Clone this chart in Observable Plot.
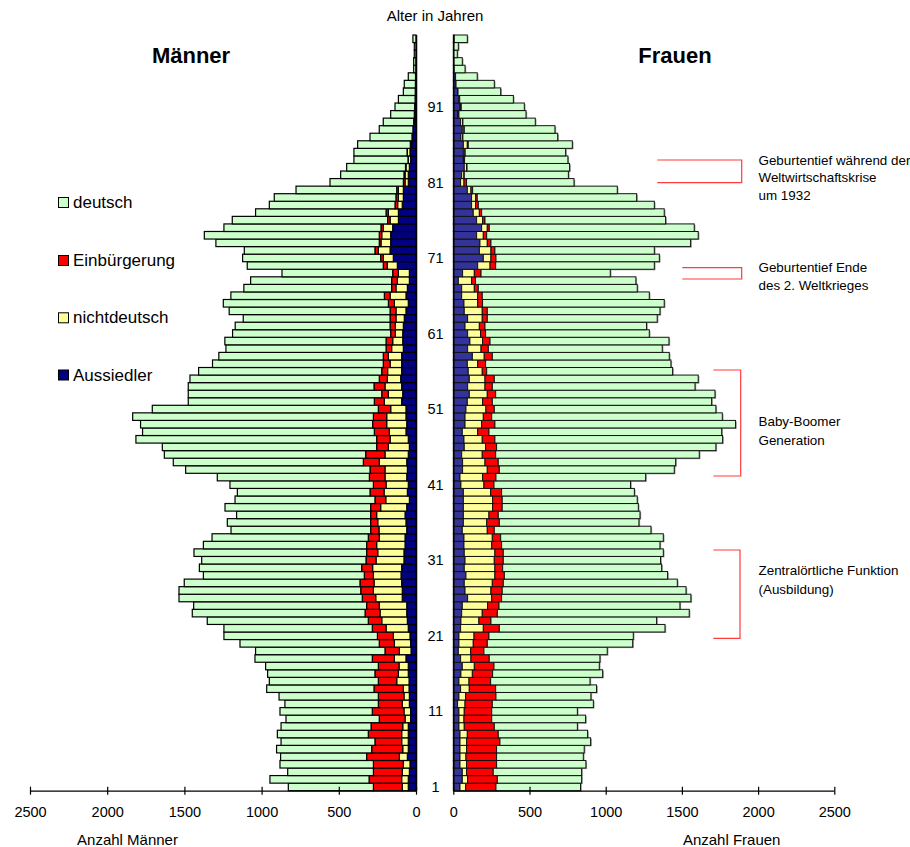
<!DOCTYPE html>
<html>
<head>
<meta charset="utf-8">
<script src="https://cdn.jsdelivr.net/npm/d3@7"></script>
<script src="https://cdn.jsdelivr.net/npm/@observablehq/plot@0.6"></script>
<style>
  html, body { margin: 0; padding: 0; background: #fff; }
  #chart { position: relative; width: 910px; height: 847px; overflow: hidden; font-family: "Liberation Sans", Arial, sans-serif; }
</style>
</head>
<body>
<div id="chart"></div>
<script>
// ---------- DATA (ages 1..100, index 0 = age 1) ----------
const ages = d3.range(1, 101);
const categories = ["Aussiedler", "nichtdeutsch", "Einbürgerung", "deutsch"]; // inner -> outer
const legendOrder = ["deutsch", "Einbürgerung", "nichtdeutsch", "Aussiedler"];
const xTicks = [0, 500, 1000, 1500, 2000, 2500];
const ageLabels = [1, 11, 21, 31, 41, 51, 61, 71, 81, 91];

const menAussiedler = [50,50,43,39,56,50,50,50,50,35, 35,43,43,45,45,50,50,65,32,35, 39,50,56,60,60,89,89,93,97,93,
  78,78,71,71,60,65,71,60,43,56, 50,60,56,60,50,43,50,65,60,65, 65,93,86,93,99,93,93,93,82,86,
  86,82,76,65,50,65,56,43,43,121, 147,168,164,164,151,114,114,89,82,82, 50,50,43,35,39,28,22,17,13,10,
  8,6,5,4,3,1,1,0,0,0];
const menNichtdeutsch = [39,43,46,43,52,36,43,43,36,36, 43,46,35,37,80,64,60,75,76,105, 108,144,166,173,178,172,187,179,179,188,
  181,170,184,167,180,183,184,169,153,151, 144,141,145,178,151,136,118,108,130,125, 99,112,93,108,87,91,75,86,76,65,
  48,52,54,65,90,103,74,78,71,65, 65,76,63,58,61,54,65,30,32,32, 21,21,22,15,17,7,3,2,2,1,
  1,0,0,0,0,0,0,0,0,0];
const menEinbuergerung = [187,211,187,194,212,201,173,216,205,167, 205,155,166,190,119,152,134,143,93,98, 103,89,87,97,82,87,82,91,59,71,
  65,72,65,71,54,46,39,65,70,91, 82,101,97,103,125,76,87,97,91,86, 80,65,43,71,52,38,44,33,36,43,
  30,34,38,38,39,37,28,37,37,26, 17,22,11,16,15,16,15,17,16,11, 11,7,3,2,2,2,1,1,0,0,
  0,0,0,0,0,0,0,0,0,0];
const menDeutsch = [551,642,555,605,557,616,608,589,583,604, 598,605,643,695,706,695,730,760,838,902, 994,961,1043,1119,1120,1187,1177,1138,1042,1051,
  1064,1118,1057,1012,904,928,868,943,906,859, 929,985,1194,1231,1304,1388,1559,1501,1503,1559, 1464,1205,1253,1203,1226,1186,1106,1065,1037,1044,
  1024,1003,951,1042,1069,994,957,913,717,881, 894,846,1058,1133,1017,1006,845,814,788,652, 475,410,381,350,344,341,272,218,197,153,
  127,108,77,72,47,14,14,11,11,20];

const womenAussiedler = [44,59,59,44,44,44,44,44,37,37, 37,28,37,48,37,50,59,48,33,37, 37,48,50,55,59,94,77,72,83,72,
  77,72,70,70,59,66,66,66,66,66, 50,44,61,61,55,72,70,59,77,77, 83,92,105,94,105,98,92,125,94,109,
  94,77,94,72,70,55,55,33,61,160, 197,171,175,153,186,153,131,120,120,92, 48,55,72,66,66,66,50,59,48,28,
  44,37,28,17,15,5,3,0,0,5];
const womenNichtdeutsch = [37,35,28,43,39,43,43,48,35,33, 35,49,44,57,66,75,79,68,81,94, 99,149,118,135,166,158,170,184,190,201,
  192,201,182,186,164,153,168,192,192,179, 151,148,162,147,135,140,120,101,109,120, 131,100,118,114,103,92,68,78,88,83,
  85,94,96,118,90,105,83,87,77,81, 50,76,48,44,37,39,40,26,26,24, 22,15,15,6,10,26,11,11,13,7,
  6,3,2,1,0,0,0,0,0,0];
const womenEinbuergerung = [199,195,175,197,201,197,219,203,197,182, 180,179,199,173,142,133,129,120,87,92, 98,105,79,99,75,65,74,72,62,51,
  59,55,65,55,46,83,61,63,63,72, 66,88,79,87,88,72,83,74,87,55, 55,64,55,48,61,29,52,53,48,49,
  33,37,33,33,32,30,26,26,44,37, 33,26,24,22,13,16,15,18,11,11, 17,2,3,2,2,6,2,2,2,2,
  2,2,1,0,0,0,0,0,0,0];
const womenDeutsch = [555,553,580,586,569,575,595,586,545,616, 562,663,623,662,652,722,691,726,809,954, 947,1087,1087,1259,1187,1242,1206,1142,1071,1043,
  1032,1050,1039,1067,1028,916,930,893,886,871, 896,982,1148,1164,1336,1439,1494,1527,1579,1513, 1454,1439,1439,1330,1338,1220,1216,1161,1141,1174,
  1074,1060,1115,1133,1192,1096,1043,1052,848,1041, 1072,1046,1310,1388,1345,1185,1198,1155,1046,949, 705,683,673,678,659,683,622,595,475,440,
  414,352,280,251,142,72,56,26,33,87];

const menColors = ["#000080", "#FFFF99", "#FF0000", "#CCFFCC"];
const womenColors = ["#333399", "#FFFF99", "#FF0000", "#CCFFCC"];

// ---------- build stacked rows ----------
function stackRows(seriesList) {
  const rows = [];
  ages.forEach((age, i) => {
    let acc = 0;
    seriesList.forEach((vals, k) => {
      const v = vals[i];
      if (v > 0) rows.push({ age, cat: categories[k], x1: acc, x2: acc + v });
      acc += v;
    });
  });
  return rows;
}
const menRows = stackRows([menAussiedler, menNichtdeutsch, menEinbuergerung, menDeutsch]);
const womenRows = stackRows([womenAussiedler, womenNichtdeutsch, womenEinbuergerung, womenDeutsch]);
const womenTotals = ages.map((age, i) => ({ age, total: womenAussiedler[i] + womenNichtdeutsch[i] + womenEinbuergerung[i] + womenDeutsch[i] }));

const W = 910, H = 847;
const FONT = "'Liberation Sans', Arial, sans-serif";
const common = {
  width: W, height: H, marginTop: 35, marginBottom: 56.3,
  y: { domain: [0.5, 100.5], axis: null },
  style: { background: "none", position: "absolute", left: "0px", top: "0px", overflow: "visible", fontFamily: FONT, fontSize: "14.5px", color: "#000" }
};

const tickHalf = 0.53;

const left = Plot.plot({
  ...common,
  marginLeft: 30, marginRight: W - 416,
  x: { domain: [2500, 0], axis: null },
  color: { domain: categories, range: menColors },
  marks: [
    Plot.rect(menRows, { x1: "x1", x2: "x2", y1: d => d.age - 0.5, y2: d => d.age + 0.5, fill: "cat", stroke: "#000", strokeWidth: 1.2 }),
    Plot.ruleX([0], { y1: 0.5, y2: 100.5, stroke: "#000", strokeWidth: 1.5 }),
    Plot.ruleY([0.5], { x1: 0, x2: 2500, stroke: "#000", strokeWidth: 1.2 }),
    Plot.ruleX(xTicks, { x: d => d, y1: 0.5 - tickHalf, y2: 0.5 + tickHalf, stroke: "#000", strokeWidth: 1.2 }),
    Plot.text(xTicks, { x: d => d, y: 0.5, dy: 21, text: d => String(d), fontSize: 14.5, fill: "#000" }),
    Plot.text(ageLabels, { y: d => d, frameAnchor: "right", dx: 19, textAnchor: "middle", text: d => String(d), fontSize: 14.5, fill: "#000" })
  ]
});

const right = Plot.plot({
  ...common,
  marginLeft: 453.3, marginRight: W - 834.3,
  x: { domain: [0, 2500], axis: null },
  color: { domain: categories, range: womenColors },
  marks: [
    Plot.rect(womenTotals, { x1: 0, x2: "total", y1: d => d.age - 0.5, y2: d => d.age + 0.5, dx: 1.2, dy: 1, fill: "#9a9a9a" }),
    Plot.rect(womenRows, { x1: "x1", x2: "x2", y1: d => d.age - 0.5, y2: d => d.age + 0.5, fill: "cat", stroke: "#111", strokeWidth: 1 }),
    Plot.ruleX([0], { y1: 0.5, y2: 100.5, stroke: "#000", strokeWidth: 1.5 }),
    Plot.ruleY([0.5], { x1: 0, x2: 2500, stroke: "#000", strokeWidth: 1.2 }),
    Plot.ruleX(xTicks, { x: d => d, y1: 0.5 - tickHalf, y2: 0.5 + tickHalf, stroke: "#000", strokeWidth: 1.2 }),
    Plot.text(xTicks, { x: d => d, y: 0.5, dy: 21, text: d => String(d), fontSize: 14.5, fill: "#000" })
  ]
});

const chart = document.getElementById("chart");
chart.appendChild(left);
chart.appendChild(right);

// ---------- overlay: titles, legend, annotations ----------
const svg = d3.select(chart).append("svg")
  .attr("width", W).attr("height", H)
  .style("position", "absolute").style("left", "0px").style("top", "0px")
  .style("font-family", FONT).style("pointer-events", "none");

function label(x, y, txt, size, anchor = "start", weight = "normal") {
  svg.append("text").attr("x", x).attr("y", y).attr("font-size", size)
    .attr("text-anchor", anchor).attr("dominant-baseline", "central")
    .attr("font-weight", weight).attr("fill", "#000").text(txt);
}

label(435, 15, "Alter in Jahren", 15, "middle");
label(191, 55, "Männer", 22, "middle", "bold");
label(675, 55, "Frauen", 22, "middle", "bold");
label(127.5, 839, "Anzahl Männer", 15, "middle");
label(731.7, 839, "Anzahl Frauen", 15, "middle");

// legend
const legendColor = { "deutsch": "#CCFFCC", "Einbürgerung": "#FF0000", "nichtdeutsch": "#FFFF99", "Aussiedler": "#000080" };
const legendY = [202.5, 260.5, 317.8, 375];
legendOrder.forEach((name, i) => {
  svg.append("rect").attr("x", 58.5).attr("y", legendY[i] - 5).attr("width", 10).attr("height", 10)
    .attr("fill", legendColor[name]).attr("stroke", "#000").attr("stroke-width", 1);
  label(73, legendY[i], name, 17);
});

// annotations
const brackets = [
  "M657.3,160H741.7V182.7H657.3",
  "M682.3,267.7H741.7V279H682.3",
  "M713.3,370H740.7V476H713.3",
  "M713.3,550H740V638.3H713.3"
];
brackets.forEach(p => svg.append("path").attr("d", p).attr("fill", "none").attr("stroke", "#ff3b3b").attr("stroke-width", 1.2));

const notes = [
  [160.5, "Geburtentief während der"], [177.5, "Weltwirtschaftskrise"], [195, "um 1932"],
  [267.7, "Geburtentief Ende"], [285, "des 2. Weltkrieges"],
  [421.7, "Baby-Boomer"], [440, "Generation"],
  [570.7, "Zentralörtliche Funktion"], [589, "(Ausbildung)"]
];
notes.forEach(([y, t]) => label(758.5, y, t, 13.4));
</script>
</body>
</html>
